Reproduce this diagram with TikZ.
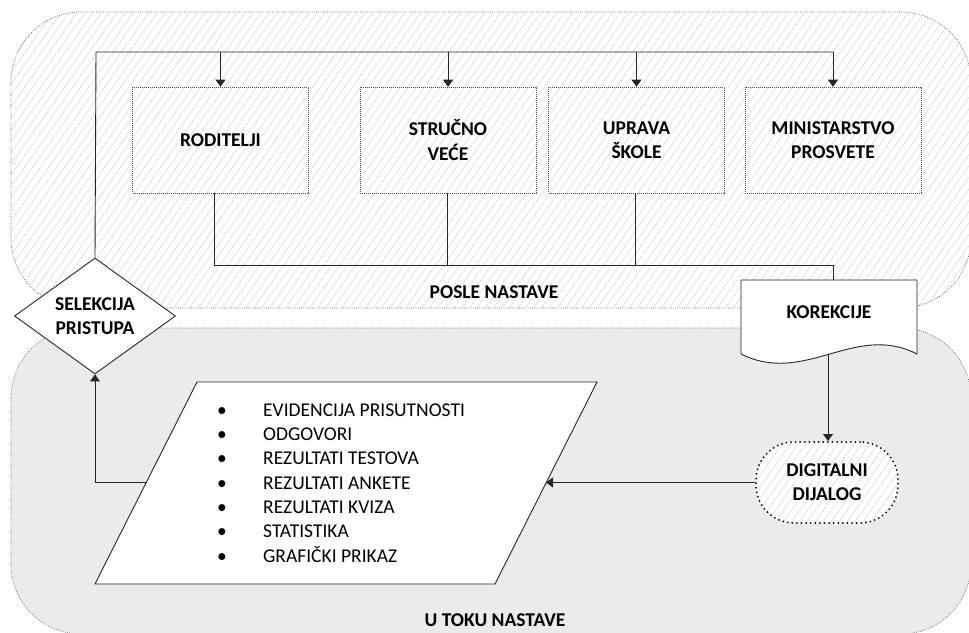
\documentclass[tikz,border=0pt]{standalone}
\usepackage{fontspec}
\setmainfont{Carlito}
\usetikzlibrary{shapes.geometric,patterns.meta,arrows.meta}
\newcommand\fsz{\fontsize{19.5}{24.3}\selectfont}
\begin{document}
\begin{tikzpicture}[x=1pt,y=-1pt,
  hatch/.style={pattern={Lines[angle=55,distance=6.5pt,line width=0.9pt]},pattern color=black!15},
  region/.style={draw=black!60,line width=0.7pt,dash pattern=on 0.8pt off 1.4pt,rounded corners=70pt},
  orgbox/.style={draw=black!70,line width=0.6pt,dash pattern=on 0.8pt off 1.2pt,minimum width=176pt,minimum height=106pt,font=\fsz\bfseries,align=center,inner sep=0pt},
  conn/.style={line width=0.9pt,draw=black!85},
  arr/.style={conn,-{Triangle[width=10pt,length=7pt]}},
  lbl/.style={font=\fsz\bfseries,align=center},
  digi/.style={draw=black,line width=2pt,dash pattern=on 0pt off 4.6pt,line cap=round,rounded corners=38pt,minimum width=142pt,minimum height=81pt,preaction={fill=white},hatch,font=\fsz\bfseries,align=center,inner sep=0pt},
  sel/.style={diamond,draw=black!85,line width=0.9pt,fill=white,minimum width=161pt,minimum height=116pt,inner sep=0pt,aspect=1.39,font=\fsz\bfseries,align=center}
]
\useasboundingbox (0,0) rectangle (969,632);
\fill[white] (0,0) rectangle (969,632);
% regions
\path[fill=white,rounded corners=70pt] (11,12) rectangle (971,308);
\path[region,hatch] (11,12) rectangle (971,308);
\path[region,fill=black!8] (11,328) rectangle (971,634);

% labels of regions
\node[lbl] (posle) at (494,292) {POSLE NASTAVE};
\node[lbl] (utoku) at (495,620) {U TOKU NASTAVE};

% boxes
\node[orgbox] (rod) at (220.5,140) {RODITELJI};
\node[orgbox] (str) at (448,140) {STRUČNO\\VEĆE};
\node[orgbox] (upr) at (636.5,140) {UPRAVA\\ŠKOLE};
\node[orgbox] (min) at (833,140) {MINISTARSTVO\\PROSVETE};

% diamond
\node[sel] (sel) at (95,316) {SELEKCIJA\\PRISTUPA};

% top distribution line
\coordinate (tl) at (96,52);
\draw[conn] (sel.north) -- (tl) -- (tl -| min.north);
\foreach \b in {rod,str,upr,min} \draw[arr] (tl -| \b.north) -- (\b.north);

% KOREKCIJE document shape
\coordinate (k1) at (741,280);
\coordinate (k2) at (917,280);
\coordinate (k3) at (917,354);
\coordinate (k4) at (741,354);
\draw[conn,fill=white] (k4) -- (k1) -- (k2) -- (k3) .. controls (855,322) and (805,386) .. (k4);
\node[lbl] (kor) at (829,312) {KOREKCIJE};
\coordinate (kb) at (828,354);

% bottom collection line
\coordinate (bl) at (214,265);
\draw[conn] ([xshift=-6.5pt]rod.south) -- (bl) -- (bl -| min.south) -- (k1 -| min.south);
\draw[conn] ([xshift=-1pt]str.south) -- ([xshift=-1pt]str.south |- bl);
\draw[conn] ([xshift=-1.5pt]upr.south) -- ([xshift=-1.5pt]upr.south |- bl);

% digital dialog
\node[digi] (dig) at (827,482.5) {DIGITALNI\\DIJALOG};
\draw[arr] (kb) -- (kb |- dig.north);

% parallelogram
\coordinate (p1) at (197,382);
\coordinate (p2) at (597,382);
\coordinate (p3) at (495,584);
\coordinate (p4) at (95,584);
\draw[conn,fill=white] (p1) -- (p2) -- (p3) -- (p4) -- cycle;
\coordinate (pr) at (546,482.5);
\coordinate (pl) at (146,482.5);
\node[anchor=west,align=left,inner sep=0pt,font=\fsz] (list) at (217,483)
 {\makebox[46pt][l]{•}EVIDENCIJA PRISUTNOSTI\\
  \makebox[46pt][l]{•}ODGOVORI\\
  \makebox[46pt][l]{•}REZULTATI TESTOVA\\
  \makebox[46pt][l]{•}REZULTATI ANKETE\\
  \makebox[46pt][l]{•}REZULTATI KVIZA\\
  \makebox[46pt][l]{•}STATISTIKA\\
  \makebox[46pt][l]{•}GRAFIČKI PRIKAZ};

\draw[arr] (dig.west) -- (pr);
\draw[arr] (pl) -| (sel.south);
\end{tikzpicture}
\end{document}
